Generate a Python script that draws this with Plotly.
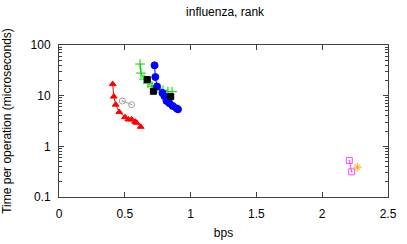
import plotly.graph_objects as go

# series values (bps, microseconds)
red_x = [0.408, 0.416, 0.431, 0.458, 0.502, 0.527, 0.552, 0.578, 0.590, 0.621]
red_y = [16.9, 9.6, 6.65, 4.74, 3.77, 3.40, 3.40, 3.06, 2.92, 2.43]

gray_x = [0.481, 0.552]
gray_y = [7.85, 6.65]

green_x = [0.616, 0.623, 0.646, 0.676, 0.707, 0.745, 0.790, 0.828, 0.859]
green_y = [42.1, 27.9, 21.2, 17.6, 15.4, 14.0, 12.8, 12.0, 12.0]

black_x = [0.671, 0.717, 0.849]
black_y = [20.8, 12.2, 9.6]

blue_x = [0.726, 0.732, 0.745, 0.786, 0.802, 0.817, 0.840, 0.864, 0.894, 0.904]
blue_y = [39.7, 23.3, 15.2, 11.3, 9.7, 7.85, 7.06, 6.24, 5.62, 5.37]

magenta_x = [2.206, 2.224]
magenta_y = [0.527, 0.314]

orange_x = [2.267]
orange_y = [0.389]

x_ticks = [0, 0.5, 1, 1.5, 2, 2.5]
x_labels = ["0", "0.5", "1", "1.5", "2", "2.5"]
y_ticks = [0.1, 1, 10, 100]
y_labels = ["0.1", "1", "10", "100"]
y_minor = [m * d for d in (0.1, 1, 10) for m in range(2, 10)]

fig = go.Figure()


def add(x, y, color, symbol, size, mode="lines+markers", lw=1):
    fig.add_trace(
        go.Scatter(
            x=x,
            y=y,
            mode=mode,
            line=dict(color=color, width=lw),
            marker=dict(color=color, symbol=symbol, size=size,
                        line=dict(color=color, width=1)),
            showlegend=False,
            cliponaxis=False,
        )
    )


add(red_x, red_y, "#ff0000", "triangle-up", 6)
add(gray_x, gray_y, "#a0a0a0", "circle-open-dot", 6)
add(green_x, green_y, "#00d000", "cross-thin-open", 7)
add(blue_x, blue_y, "#0000ff", "circle", 7)
add(black_x, black_y, "#000000", "square", 6, mode="markers")
add(magenta_x, magenta_y, "#ff44ff", "square-open-dot", 6)
add(orange_x, orange_y, "#ffa500", "asterisk-open", 7, mode="markers")

font = "Liberation Sans, Arial, sans-serif"

axis_common = dict(
    showline=True,
    linecolor="#404040",
    linewidth=1,
    mirror="ticks",
    ticks="inside",
    ticklen=5,
    tickcolor="#404040",
    showgrid=False,
    zeroline=False,
    automargin=False,
    tickfont=dict(family=font, size=12, color="#000"),
)

fig.update_layout(
    width=407,
    height=244,
    margin=dict(l=59, r=19, t=45, b=47),
    plot_bgcolor="white",
    paper_bgcolor="white",
    font=dict(family=font, size=12, color="#000"),
    title=dict(text="influenza, rank", x=0.553, xanchor="center",
               y=0.95, yanchor="middle", font=dict(size=12), automargin=False),
    xaxis=dict(
        range=[0, 2.5],
        tickvals=x_ticks,
        ticktext=x_labels,
        ticklabelstandoff=6,
        title=dict(text="bps", standoff=8, font=dict(size=12)),
        **axis_common,
    ),
    yaxis=dict(
        type="log",
        range=[-1, 2],
        tickvals=y_ticks,
        ticktext=y_labels,
        ticklabelstandoff=5,
        title=dict(text="Time per operation (microseconds)", standoff=16,
                   font=dict(size=12)),
        minor=dict(tickvals=y_minor, ticks="inside", ticklen=3,
                   tickcolor="#404040", showgrid=False),
        **axis_common,
    ),
)

# drop the browser's default page margin so the figure sits at (0, 0)
fig.write_html(
    "out.html",
    config={"displayModeBar": False},
    post_script="document.body.style.margin = '0'; document.body.style.overflow = 'hidden';",
)
